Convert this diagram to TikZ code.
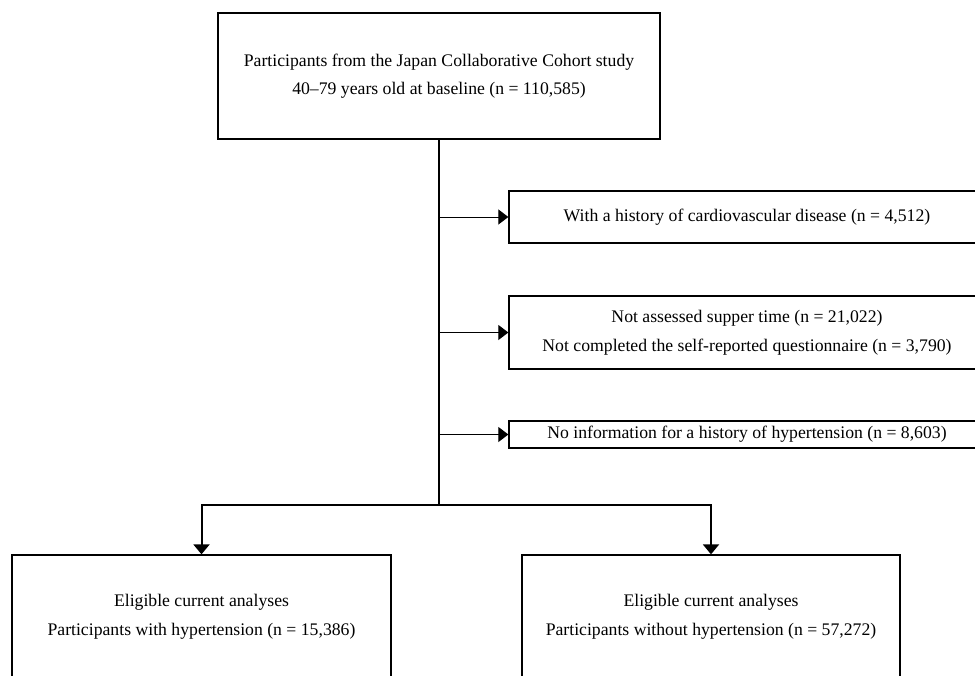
\documentclass[tikz,border=0pt]{standalone}
\usepackage{fontspec}
\setmainfont{Liberation Serif}
\usetikzlibrary{arrows.meta,positioning}

\begin{document}
\begin{tikzpicture}[x=1pt,y=-1pt,
  font=\fontsize{17.7}{28.5}\selectfont,
  box/.style={draw,line width=1.3pt,inner sep=0pt,align=center},
  trunk/.style={line width=2pt},
  sidearrow/.style={line width=1pt,-{Triangle[length=10pt,width=15pt]}},
  downarrow/.style={line width=2pt,-{Triangle[length=10pt,width=16pt]}}]
  \useasboundingbox (0,0) rectangle (975,675);
  % source cohort
  \node[box,minimum width=442pt,minimum height=126pt] (cohort) at (439,76)
    {Participants from the Japan Collaborative Cohort study\\40--79 years old at baseline (n = 110,585)};
  % exclusions
  \node[box,minimum width=476pt,minimum height=52pt] (cvd) at (747,217)
    {With a history of cardiovascular disease (n = 4,512)};
  \node[box,minimum width=476pt,minimum height=73pt] (supper) at (747,332.5)
    {Not assessed supper time (n = 21,022)\\Not completed the self-reported questionnaire (n = 3,790)};
  \node[box,minimum width=476pt,minimum height=27pt] (noinfo) at (747,434.5)
    {No information for a history of hypertension (n = 8,603)};
  % analysed groups
  \node[box,minimum width=379pt,minimum height=124pt] (hyper) at (201.5,617)
    {Eligible current analyses\\Participants with hypertension (n = 15,386)};
  \node[box,minimum width=378pt,minimum height=124pt] (nohyper) at (711,617)
    {Eligible current analyses\\Participants without hypertension (n = 57,272)};
  \coordinate (split) at (cohort.south |- 0,505);
  \draw[trunk] (cohort.south) -- (split);
  \draw[sidearrow] (cohort.south |- cvd.west) -- (cvd.west);
  \draw[sidearrow] (cohort.south |- supper.west) -- (supper.west);
  \draw[sidearrow] (cohort.south |- noinfo.west) -- (noinfo.west);
  \draw[downarrow] (split) -| (hyper.north);
  \draw[downarrow] (split) -| (nohyper.north);
\end{tikzpicture}
\end{document}
